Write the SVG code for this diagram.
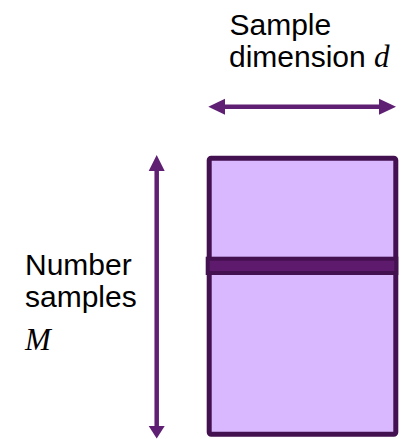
<svg xmlns="http://www.w3.org/2000/svg" width="409" height="439" viewBox="0 0 409 439">
<style>
.lbl{font-family:"Liberation Sans",Arial,sans-serif;font-size:30px;fill:#000}
.math{font-family:"Liberation Serif","Times New Roman",serif;font-style:italic;font-size:31px;fill:#000}
.shaft{stroke:#5f1f73;stroke-width:4.5;fill:none}
.head{fill:#5f1f73}
</style>
<rect width="409" height="439" fill="#fff"/>
<g id="matrix">
<rect x="209.2" y="158.2" width="186.6" height="276" rx="2" fill="#d9b8ff" stroke="#441150" stroke-width="5"/>
</g>
<g id="row">
<rect x="207.7" y="258.7" width="188.6" height="14.3" fill="#5e1a6c" stroke="#441150" stroke-width="4"/>
</g>
<g id="connectors">
<line class="shaft" x1="222" y1="106.7" x2="382" y2="106.7"/>
<polygon class="head" points="208.3,106.7 225,98.7 225,114.7"/>
<polygon class="head" points="396,106.7 379,98.7 379,114.7"/>
<line class="shaft" x1="156.7" y1="168" x2="156.7" y2="428"/>
<polygon class="head" points="156.7,155 148.7,171 164.7,171"/>
<polygon class="head" points="156.7,438.5 148.7,426 164.7,426"/>
</g>
<g id="label-d">
<text class="lbl" x="229.5" y="35">Sample</text>
<text class="lbl" x="229" y="67">dimension <tspan class="math">d</tspan></text>
</g>
<g id="label-M">
<text class="lbl" x="25" y="275">Number</text>
<text class="lbl" x="25" y="307">samples</text>
<text class="math" x="25" y="350">M</text>
</g>
</svg>
